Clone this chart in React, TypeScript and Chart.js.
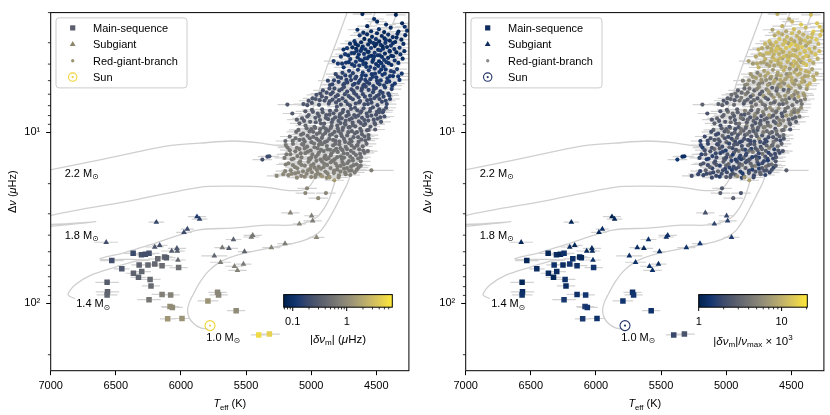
import React, { useEffect, useRef } from "react";
import { Chart, registerables } from "chart.js";
Chart.register(...registerables);

const FONT = '"Liberation Sans", Arial, "DejaVu Sans", sans-serif';

// ---------- axes ----------
const X_MIN = 4250;
const X_MAX = 7000;
const Y_MIN = 2.0;
const Y_MAX = 248;
const X_TICKS = [7000, 6500, 6000, 5500, 5000, 4500];
const Y_MAJOR_TICKS = [10, 100];
const Y_TICK_LABELS = ["10\u00b9", "10\u00b2"];
const Y_MINOR_TICKS = [2, 3, 4, 5, 6, 7, 8, 9, 20, 30, 40, 50, 60, 70, 80, 90, 200];

// ---------- colour bars ----------
const LEFT_CB_RANGE: [number, number] = [0.068, 7.0];
const RIGHT_CB_RANGE: [number, number] = [1, 20.4];
const LEFT_CB_MAJOR = [0.1, 1];
const LEFT_CB_MAJOR_LABELS = ["0.1", "1"];
const LEFT_CB_MINOR = [0.07, 0.08, 0.09, 0.2, 0.3, 0.4, 0.5, 0.6, 0.7, 0.8, 0.9, 2, 3, 4, 5, 6];
const RIGHT_CB_MAJOR = [1, 10];
const RIGHT_CB_MAJOR_LABELS = ["1", "10"];
const RIGHT_CB_MINOR = [2, 3, 4, 5, 6, 7, 8, 9, 20];

const LEGEND_LABELS = ["Main-sequence", "Subgiant", "Red-giant-branch", "Sun"];

// ---------- Sun ----------
const SUN = [5777, 135.1];

// ---------- evolutionary tracks [Teff, dnu] ----------
const TRACK_22 = [[7060, 16.95], [6623, 14.5], [6370, 13.2], [6087, 12.0], [5857, 11.6], [5604, 11.26], [5397, 11.56], [5191, 12.19], [5129, 11.87], [5068, 10.4], [5014, 8.21], [4953, 6.14], [4884, 4.25], [4808, 2.98], [4724, 2.0], [4700, 1.8]];
const TRACK_18 = [[7060, 35.8], [6653, 33.4], [7060, 34.5], [7060, 31.5], [6370, 25.06], [5857, 21.0], [5604, 20.7], [5344, 21.0], [5168, 21.96], [5037, 21.5], [4976, 18.8], [4938, 15.45], [4884, 11.87], [4823, 8.88], [4754, 6.31], [4678, 4.25], [4586, 2.79], [4509, 2.0], [4480, 1.8]];
const TRACK_14 = [[6814, 94.0], [6867, 89.2], [6814, 78.2], [6691, 68.5], [6508, 61.65], [6355, 56.97], [6240, 55.85], [6385, 55.48], [6623, 55.11], [6431, 50.6], [6240, 45.53], [5872, 37.36], [5604, 36.39], [5344, 34.99], [5168, 34.99], [5053, 34.07], [4968, 31.9], [4907, 28.33], [4861, 24.5], [4831, 20.92], [4792, 16.5], [4746, 12.68], [4693, 9.74], [4616, 7.0], [4532, 4.72], [4440, 3.18], [4340, 2.0], [4310, 1.8]];
const TRACK_10 = [[5790, 142], [5850, 139.5], [5905, 131], [5938, 121], [5949, 110], [5935, 98.5], [5903, 88.0], [5857, 76.1], [5796, 65.8], [5727, 59.3], [5643, 54.75], [5528, 51.27], [5382, 48.63], [5229, 46.13], [5091, 43.76], [4991, 40.97], [4922, 37.36], [4861, 31.9], [4808, 26.87], [4762, 22.94], [4724, 20.11], [4685, 16.5], [4647, 13.54], [4578, 10.13], [4479, 7.0], [4379, 4.53], [4310, 3.18], [4249, 2.28], [4211, 1.93]];
const TRACKS = [TRACK_22, TRACK_18, TRACK_14, TRACK_10];
const TRACK_MASSES = ["2.2", "1.8", "1.4", "1.0"];
const TRACK_LABEL_TEFF = [6893, 6893, 6804, 5806];
const TRACK_LABEL_DNU = [17.23, 39.74, 100, 157.1];

// ---------- main-sequence stars [Teff, dnu, sigmaTeff, |dnu_m| (uHz), |dnu_m|/numax*1e3] ----------
const MS_STARS = [
  [6531, 56.3, 90, 0.22, 1.1], [6454, 62.9, 60, 0.27, 1.2], [6367, 51.1, 70, 0.19, 1.1], [6303, 52.1, 80, 0.24, 1.2],
  [6273, 51.7, 70, 0.22, 1.1], [6245, 51.1, 80, 0.23, 1.3], [6321, 59.7, 60, 0.37, 1.3], [6253, 59.7, 70, 0.42, 1.2],
  [6201, 59.0, 80, 0.42, 1.4], [6178, 55.0, 70, 0.44, 1.3], [6125, 53.6, 60, 0.37, 1.2], [6112, 54.2, 70, 0.32, 1.1],
  [6145, 60.3, 80, 0.47, 1.3], [6018, 61.9, 70, 0.52, 1.4], [6365, 66.8, 60, 0.37, 1.2], [6301, 65.3, 70, 0.40, 1.2],
  [6326, 70.6, 60, 0.35, 1.1], [6237, 72.6, 80, 0.42, 1.3], [6230, 79.2, 70, 0.44, 1.2], [6567, 75.5, 90, 0.32, 1.1],
  [6564, 85.8, 90, 0.37, 1.2], [6567, 89.4, 80, 0.40, 1.3], [6245, 95.3, 90, 0.60, 1.5], [6145, 88.8, 80, 0.75, 1.3],
  [6079, 89.4, 70, 0.80, 1.4], [6084, 104.5, 70, 1.10, 1.6], [6066, 105.8, 80, 1.00, 1.4], [6102, 123.4, 60, 1.30, 1.5],
  [5992, 122.8, 60, 1.20, 1.3], [5793, 97.0, 80, 1.20, 1.4], [5719, 86.4, 70, 0.90, 1.3], [5711, 89.4, 70, 0.90, 1.4],
  [5576, 110.6, 70, 1.00, 1.3], [5403, 153.3, 60, 5.50, 1.9], [5321, 151.5, 80, 4.50, 2.3],
];

// ---------- subgiant stars [Teff, dnu, sigmaTeff, |dnu_m|, |dnu_m|/numax*1e3] ----------
const SG_STARS = [
  [6189, 33.6, 60, 0.18, 1.1], [5877, 31.2, 70, 0.14, 1.0], [5857, 32.2, 60, 0.16, 1.1], [5951, 36.9, 50, 0.20, 1.2],
  [5977, 38.5, 60, 0.20, 1.1], [6574, 44.0, 90, 0.22, 1.1], [5597, 42.4, 60, 0.35, 1.3], [5449, 40.1, 70, 0.60, 1.4],
  [5460, 41.0, 60, 0.65, 1.3], [5160, 29.6, 70, 0.85, 2.2], [4997, 30.8, 60, 0.75, 1.9], [4989, 33.0, 70, 0.70, 1.7],
  [5091, 34.4, 50, 0.80, 1.8], [4959, 41.2, 60, 0.95, 1.6], [5683, 47.3, 60, 0.65, 1.2], [5632, 47.8, 70, 0.30, 1.1],
  [5512, 49.9, 50, 0.38, 1.2], [5306, 47.3, 70, 0.80, 1.3], [5201, 44.8, 60, 0.70, 1.4], [5744, 52.8, 100, 0.40, 1.2],
  [5696, 57.6, 80, 0.70, 1.3], [5589, 60.8, 70, 0.75, 1.3], [5520, 59.0, 60, 0.65, 1.2], [5566, 64.3, 70, 0.80, 1.3],
  [6163, 45.9, 60, 0.22, 1.1], [6031, 47.8, 70, 0.25, 1.1], [6028, 49.5, 60, 0.30, 1.2], [6071, 49.5, 80, 0.30, 1.1],
  [6023, 55.9, 60, 0.45, 1.3], [6201, 46.9, 70, 0.25, 1.2],
];

// ---------- red-giant-branch stars [Teff, dnu, |dnu_m|, |dnu_m|/numax*1e3, (sigmaTeff)] ----------
const RGB_TEFF_ERR = 75;
const RGB_STARS: number[][] = [
  [4607, 2.04, 0.09, 10], [4350, 2.06, 0.08, 12], [4517, 2.18, 0.10, 9], [4494, 2.26, 0.09, 11], [4302, 2.31, 0.08, 13], [4264, 2.55, 0.10, 12],
  [4425, 2.35, 0.09, 14], [4570, 2.40, 0.08, 10], [4645, 2.52, 0.10, 8], [4390, 2.45, 0.09, 11], [4330, 2.58, 0.08, 15], [4480, 2.50, 0.11, 12],
  [4540, 2.57, 0.09, 9], [4282, 2.42, 0.10, 13], [4440, 2.60, 0.08, 10], [4600, 2.62, 0.10, 11],
  [4278, 2.71, 0.09, 13], [4292, 3.05, 0.10, 11], [4308, 2.88, 0.08, 14], [4322, 3.21, 0.11, 9], [4338, 2.66, 0.09, 12], [4355, 2.97, 0.08, 10],
  [4362, 3.27, 0.10, 13], [4374, 2.78, 0.09, 11], [4388, 3.12, 0.12, 8], [4396, 2.92, 0.08, 12], [4409, 2.69, 0.10, 10], [4418, 3.18, 0.09, 14],
  [4431, 3.01, 0.11, 9], [4437, 2.83, 0.08, 11], [4449, 3.25, 0.10, 12], [4458, 2.74, 0.09, 10], [4466, 3.09, 0.12, 13], [4478, 2.95, 0.08, 9],
  [4486, 3.30, 0.10, 11], [4495, 2.64, 0.09, 12], [4503, 2.86, 0.11, 10], [4512, 3.14, 0.08, 14], [4521, 3.02, 0.10, 8], [4533, 2.77, 0.09, 11],
  [4541, 3.22, 0.12, 13], [4552, 2.91, 0.08, 10], [4563, 3.07, 0.10, 12], [4571, 2.68, 0.09, 9], [4584, 3.28, 0.11, 11], [4592, 2.85, 0.08, 13],
  [4604, 3.16, 0.10, 10], [4617, 2.98, 0.09, 12], [4628, 2.72, 0.12, 9], [4641, 3.11, 0.10, 11], [4655, 3.26, 0.08, 10], [4668, 2.94, 0.11, 12],
  [4684, 3.19, 0.09, 8], [4702, 3.04, 0.10, 11], [4725, 3.23, 0.12, 9], [4752, 3.29, 0.10, 10],
  [4285, 3.36, 0.10, 12], [4298, 3.72, 0.09, 10], [4315, 3.51, 0.11, 13], [4331, 3.94, 0.10, 9], [4346, 3.42, 0.08, 11], [4359, 3.81, 0.12, 12],
  [4371, 3.60, 0.10, 10], [4384, 4.05, 0.09, 13], [4397, 3.38, 0.11, 9], [4410, 3.68, 0.10, 11], [4422, 3.90, 0.13, 8], [4434, 3.47, 0.09, 12],
  [4446, 4.12, 0.11, 10], [4457, 3.63, 0.10, 11], [4468, 3.33, 0.12, 9], [4479, 3.85, 0.09, 12], [4490, 3.55, 0.11, 10], [4502, 4.00, 0.10, 8],
  [4513, 3.44, 0.13, 11], [4524, 3.77, 0.10, 13], [4536, 3.58, 0.09, 9], [4547, 4.16, 0.12, 10], [4559, 3.39, 0.10, 12], [4570, 3.70, 0.11, 8],
  [4582, 3.96, 0.09, 11], [4594, 3.49, 0.12, 10], [4606, 3.83, 0.10, 9], [4619, 3.35, 0.11, 12], [4631, 4.08, 0.13, 8], [4644, 3.65, 0.10, 10],
  [4657, 3.88, 0.12, 9], [4671, 3.45, 0.10, 11], [4686, 4.02, 0.11, 7], [4700, 3.74, 0.13, 10], [4716, 3.56, 0.10, 9], [4733, 3.92, 0.12, 8],
  [4751, 4.18, 0.11, 10], [4772, 3.62, 0.13, 9], [4795, 3.98, 0.12, 7], [4828, 3.84, 0.14, 8],
  [4345, 2.80, 0.09, 12], [4372, 3.02, 0.10, 10], [4398, 3.35, 0.09, 13], [4426, 2.90, 0.11, 9], [4452, 3.15, 0.08, 12], [4474, 3.55, 0.10, 11],
  [4499, 3.05, 0.09, 14], [4517, 3.62, 0.11, 10], [4545, 2.97, 0.10, 12], [4566, 3.40, 0.09, 9], [4588, 3.70, 0.12, 11], [4612, 3.25, 0.10, 13],
  [4635, 3.52, 0.11, 10], [4660, 3.05, 0.09, 9], [4690, 3.45, 0.12, 11], [4712, 3.90, 0.11, 8], [4405, 3.95, 0.10, 12], [4440, 3.78, 0.12, 9],
  [4485, 4.10, 0.11, 11], [4530, 3.88, 0.10, 10], [4578, 4.15, 0.12, 9], [4625, 3.78, 0.11, 12], [4668, 4.10, 0.13, 8], [4740, 3.50, 0.12, 10],
  [4386, 3.58, 0.09, 13], [4462, 3.95, 0.11, 10], [4555, 3.60, 0.10, 12], [4600, 4.00, 0.12, 9], [4650, 3.35, 0.11, 10], [4763, 3.98, 0.13, 9],
  [4305, 4.55, 0.12, 9], [4322, 4.95, 0.11, 10], [4341, 4.28, 0.13, 8], [4358, 5.20, 0.12, 11], [4372, 4.70, 0.10, 9], [4388, 4.40, 0.14, 10],
  [4401, 5.05, 0.12, 7], [4415, 4.85, 0.13, 9], [4428, 4.30, 0.11, 11], [4441, 5.32, 0.15, 8], [4453, 4.62, 0.12, 10], [4466, 4.98, 0.13, 6],
  [4477, 4.45, 0.11, 9], [4489, 5.15, 0.14, 8], [4500, 4.78, 0.12, 10], [4512, 4.25, 0.13, 7], [4523, 5.38, 0.15, 9], [4535, 4.58, 0.12, 6],
  [4546, 4.90, 0.14, 8], [4558, 4.35, 0.13, 10], [4569, 5.10, 0.15, 7], [4581, 4.67, 0.12, 9], [4593, 5.27, 0.16, 6], [4604, 4.48, 0.13, 8],
  [4616, 4.88, 0.14, 5], [4629, 5.02, 0.15, 9], [4641, 4.32, 0.13, 7], [4654, 4.74, 0.16, 8], [4667, 5.22, 0.14, 5], [4680, 4.52, 0.15, 9],
  [4694, 4.96, 0.16, 6], [4709, 4.38, 0.14, 8], [4723, 5.12, 0.17, 5], [4738, 4.66, 0.15, 7], [4754, 5.30, 0.16, 6], [4771, 4.82, 0.17, 8],
  [4790, 5.08, 0.16, 5], [4812, 4.58, 0.18, 7], [4838, 5.25, 0.17, 6], [4872, 5.00, 0.18, 5],
  [4332, 4.72, 0.12, 9], [4365, 4.45, 0.13, 10], [4395, 4.70, 0.12, 8], [4435, 4.55, 0.13, 9], [4462, 4.30, 0.12, 7], [4495, 5.00, 0.14, 9],
  [4528, 4.75, 0.13, 8], [4555, 5.20, 0.15, 6], [4585, 4.95, 0.14, 9], [4610, 4.65, 0.13, 7], [4638, 5.15, 0.15, 8], [4662, 4.85, 0.16, 6],
  [4700, 4.70, 0.15, 8], [4730, 4.95, 0.16, 7], [4760, 4.50, 0.16, 5], [4795, 4.75, 0.17, 7], [4825, 4.98, 0.17, 6], [4855, 5.30, 0.18, 5],
  [4420, 5.10, 0.14, 9], [4510, 4.55, 0.13, 8], [4600, 5.35, 0.16, 6], [4680, 5.30, 0.16, 7], [4745, 5.20, 0.17, 5], [4378, 5.35, 0.13, 10],
  [4475, 5.25, 0.15, 7],
  [4382, 5.60, 0.15, 7], [4395, 6.40, 0.17, 5], [4408, 5.95, 0.16, 8], [4420, 6.85, 0.18, 4], [4433, 5.48, 0.15, 6], [4445, 6.20, 0.17, 9],
  [4457, 6.65, 0.19, 3.5], [4469, 5.78, 0.16, 7], [4481, 6.05, 0.18, 5], [4492, 6.95, 0.20, 4], [4503, 5.52, 0.16, 8], [4515, 6.32, 0.19, 3],
  [4526, 5.85, 0.17, 6], [4537, 6.72, 0.20, 4.5], [4548, 6.12, 0.18, 7], [4559, 5.66, 0.17, 3], [4570, 6.50, 0.21, 5], [4581, 5.42, 0.18, 8],
  [4592, 6.88, 0.22, 3.5], [4603, 6.00, 0.19, 6], [4614, 5.72, 0.18, 2.8], [4625, 6.58, 0.21, 5], [4636, 6.25, 0.20, 7], [4647, 5.50, 0.19, 3],
  [4658, 6.80, 0.23, 4], [4669, 5.92, 0.20, 6], [4680, 6.42, 0.21, 2.6], [4691, 5.62, 0.19, 5], [4702, 6.98, 0.24, 3.5], [4713, 6.15, 0.21, 7],
  [4724, 5.80, 0.20, 3], [4736, 6.60, 0.23, 4.5], [4748, 5.45, 0.20, 6], [4760, 6.35, 0.22, 2.7], [4772, 6.90, 0.24, 4], [4784, 5.70, 0.21, 3],
  [4796, 6.08, 0.22, 5.5], [4809, 6.70, 0.24, 2.8], [4822, 5.55, 0.21, 4], [4836, 6.45, 0.23, 3.2], [4850, 6.00, 0.22, 5], [4865, 6.82, 0.25, 2.5],
  [4881, 5.88, 0.23, 3.5], [4898, 6.55, 0.24, 4], [4918, 6.18, 0.24, 2.9], [4940, 6.92, 0.25, 3.5], [4966, 6.40, 0.25, 3], [4995, 6.75, 0.25, 2.6],
  [5030, 6.95, 0.26, 3],
  [4400, 6.10, 0.16, 7], [4428, 6.55, 0.18, 4], [4452, 5.90, 0.17, 6], [4476, 6.40, 0.19, 3.5], [4498, 6.15, 0.18, 7], [4520, 5.65, 0.17, 4],
  [4543, 6.45, 0.20, 5], [4565, 6.85, 0.21, 3], [4588, 6.20, 0.19, 6], [4610, 5.55, 0.18, 4], [4632, 6.70, 0.22, 3.2], [4654, 6.05, 0.20, 5],
  [4676, 5.75, 0.20, 7], [4698, 6.30, 0.21, 3], [4720, 6.85, 0.23, 4], [4742, 6.00, 0.21, 2.8], [4765, 5.60, 0.21, 5], [4788, 6.50, 0.23, 3.5],
  [4812, 6.20, 0.23, 2.6], [4835, 5.85, 0.22, 4], [4858, 6.60, 0.24, 3], [4885, 6.30, 0.24, 4.5], [4910, 5.70, 0.23, 3], [4935, 6.50, 0.25, 2.7],
  [4960, 6.05, 0.24, 3.5], [4990, 6.35, 0.25, 3], [5020, 6.55, 0.26, 2.6], [5060, 6.85, 0.27, 3], [4860, 5.55, 0.22, 3.5], [4930, 5.95, 0.24, 4],
  [4425, 7.20, 0.22, 6], [4438, 8.10, 0.24, 4], [4451, 7.65, 0.21, 7], [4464, 8.70, 0.25, 3], [4477, 7.35, 0.23, 5], [4490, 8.35, 0.26, 2.8],
  [4502, 7.90, 0.24, 6], [4514, 8.85, 0.27, 3.5], [4526, 7.15, 0.22, 4], [4538, 8.00, 0.25, 7], [4550, 7.55, 0.24, 3], [4562, 8.55, 0.27, 5],
  [4574, 7.80, 0.25, 2.5], [4586, 8.95, 0.28, 4], [4598, 7.25, 0.24, 6], [4610, 8.25, 0.27, 3], [4622, 7.70, 0.26, 4.5], [4634, 8.65, 0.29, 2.6],
  [4646, 7.45, 0.25, 5], [4658, 8.15, 0.28, 3.2], [4670, 7.95, 0.27, 7], [4682, 8.80, 0.30, 2.8], [4694, 7.30, 0.26, 4], [4706, 8.45, 0.29, 3],
  [4718, 7.60, 0.27, 5.5], [4730, 8.05, 0.28, 2.4], [4742, 8.90, 0.31, 3.5], [4754, 7.40, 0.27, 4], [4766, 8.30, 0.30, 2.7], [4778, 7.85, 0.29, 6],
  [4790, 8.60, 0.31, 3], [4803, 7.10, 0.27, 4.5], [4816, 8.20, 0.30, 2.5], [4829, 7.75, 0.29, 3.5], [4842, 8.75, 0.32, 2.8], [4856, 7.50, 0.29, 5],
  [4870, 8.40, 0.31, 3], [4885, 7.95, 0.30, 2.6], [4900, 8.90, 0.33, 4], [4916, 7.35, 0.30, 3], [4933, 8.50, 0.32, 2.5], [4950, 7.80, 0.31, 3.5],
  [4968, 8.25, 0.32, 2.8], [4987, 7.60, 0.31, 4], [5008, 8.70, 0.34, 2.6], [5030, 8.10, 0.33, 3.2], [5055, 8.60, 0.34, 2.5], [5090, 8.88, 0.35, 3],
  [5145, 7.78, 0.30, 2.4], [5183, 6.90, 0.28, 3],
  [4445, 7.45, 0.23, 5], [4470, 8.20, 0.25, 3], [4495, 7.60, 0.24, 6], [4520, 8.45, 0.26, 3], [4545, 7.30, 0.24, 4], [4568, 8.10, 0.26, 2.6],
  [4592, 8.50, 0.28, 5], [4615, 7.55, 0.26, 3.5], [4640, 8.00, 0.27, 2.8], [4664, 7.20, 0.26, 6], [4688, 8.30, 0.29, 3], [4712, 7.90, 0.28, 4],
  [4736, 8.60, 0.30, 2.6], [4760, 7.65, 0.28, 3.5], [4784, 8.15, 0.30, 5], [4808, 7.45, 0.29, 2.8], [4834, 8.45, 0.31, 3.2], [4860, 7.90, 0.30, 2.5],
  [4888, 8.25, 0.31, 4], [4912, 7.65, 0.31, 3], [4940, 8.05, 0.32, 2.6], [4965, 8.75, 0.33, 3.5], [4995, 7.40, 0.31, 2.8], [5020, 7.95, 0.33, 3],
  [5045, 7.55, 0.33, 2.5], [5070, 8.30, 0.34, 3.2], [5110, 8.45, 0.35, 2.6], [4620, 8.85, 0.29, 3], [4775, 8.85, 0.31, 2.4], [4925, 8.90, 0.33, 3],
  [4478, 7.65, 0.25, 4], [4509, 9.00, 0.30, 3], [4509, 9.65, 0.32, 2.5], [4560, 10.40, 0.36, 3.5],
  [4545, 9.30, 0.30, 5], [4558, 10.90, 0.36, 2.5], [4571, 9.75, 0.32, 4], [4584, 11.20, 0.38, 2], [4597, 9.10, 0.31, 6], [4610, 10.30, 0.35, 3],
  [4623, 9.55, 0.33, 2.4], [4636, 11.40, 0.40, 4], [4649, 10.00, 0.35, 2.8], [4662, 9.25, 0.33, 5], [4675, 10.70, 0.38, 2.2], [4688, 9.85, 0.35, 3.5],
  [4700, 11.05, 0.40, 2], [4712, 9.40, 0.34, 4.5], [4724, 10.45, 0.38, 2.6], [4736, 9.05, 0.34, 3], [4748, 10.95, 0.41, 6], [4760, 9.70, 0.36, 2.3],
  [4772, 10.20, 0.39, 3.5], [4784, 11.35, 0.43, 2], [4796, 9.50, 0.37, 4], [4808, 10.60, 0.41, 2.5], [4820, 9.95, 0.39, 3], [4832, 11.10, 0.44, 2.2],
  [4844, 9.20, 0.37, 5], [4856, 10.40, 0.42, 2.6], [4868, 9.80, 0.40, 3.2], [4880, 11.30, 0.46, 2], [4892, 10.10, 0.42, 4], [4905, 9.35, 0.40, 2.5],
  [4918, 10.80, 0.45, 3], [4931, 9.60, 0.41, 2.2], [4944, 11.15, 0.47, 3.5], [4957, 10.25, 0.44, 2.4], [4970, 9.45, 0.42, 4.5], [4984, 10.65, 0.46, 2.1],
  [4998, 11.45, 0.49, 3], [5013, 9.90, 0.44, 2.5], [5028, 10.50, 0.47, 3.5], [5044, 9.15, 0.43, 2.2], [5060, 11.00, 0.49, 2.8], [5078, 10.35, 0.47, 2],
  [5098, 9.70, 0.45, 3], [5120, 10.85, 0.50, 2.4], [5142, 11.25, 0.51, 2], [5198, 11.26, 0.45, 1.8],
  [4590, 10.60, 0.36, 3], [4615, 9.85, 0.34, 4], [4640, 10.70, 0.38, 2.4], [4665, 10.15, 0.36, 3.5], [4690, 11.30, 0.41, 2], [4715, 10.00, 0.37, 4.5],
  [4740, 11.40, 0.42, 2.2], [4765, 10.55, 0.39, 3], [4790, 9.85, 0.38, 2.6], [4815, 11.25, 0.43, 2], [4838, 10.25, 0.41, 3.5], [4862, 10.95, 0.44, 2.3],
  [4886, 9.60, 0.40, 4], [4910, 10.40, 0.43, 2.5], [4935, 10.05, 0.43, 3], [4960, 10.90, 0.46, 2.2], [4985, 9.95, 0.44, 3.5], [5010, 10.85, 0.47, 2.4],
  [5035, 9.50, 0.44, 2.8], [5062, 10.20, 0.47, 2], [5090, 11.10, 0.50, 2.6], [5115, 9.95, 0.47, 2.2], [4705, 9.35, 0.35, 5], [4850, 9.45, 0.39, 3],
  [4975, 9.30, 0.42, 2.4], [4560, 9.70, 0.33, 3.5], [4680, 9.10, 0.34, 4], [4800, 9.15, 0.36, 2.8], [4930, 11.40, 0.48, 2], [5050, 11.35, 0.50, 2.4],
  [4615, 11.05, 0.39, 2.6], [4755, 9.40, 0.36, 3.2], [4895, 11.45, 0.47, 1.9], [5000, 9.60, 0.43, 3], [5165, 10.60, 0.50, 2],
  [4575, 11.70, 0.42, 3], [4590, 13.20, 0.48, 2], [4604, 12.10, 0.44, 4], [4618, 14.00, 0.52, 2.4], [4631, 12.60, 0.47, 1.8], [4644, 11.90, 0.45, 3.5],
  [4657, 13.60, 0.51, 2.2], [4670, 12.35, 0.47, 5], [4683, 14.30, 0.55, 1.9], [4696, 12.85, 0.50, 2.8], [4709, 11.60, 0.46, 2], [4722, 13.40, 0.53, 4],
  [4735, 12.20, 0.49, 2.3], [4748, 14.10, 0.57, 1.7], [4760, 12.75, 0.52, 3], [4772, 13.85, 0.56, 2], [4784, 11.80, 0.49, 2.6], [4796, 13.05, 0.54, 4.5],
  [4808, 12.50, 0.53, 1.8], [4820, 14.40, 0.60, 2.5], [4832, 11.95, 0.51, 3.2], [4844, 13.30, 0.57, 2], [4856, 12.65, 0.55, 1.6], [4868, 14.20, 0.61, 3],
  [4880, 12.05, 0.53, 2.2], [4892, 13.70, 0.59, 1.9], [4904, 12.90, 0.57, 4], [4916, 11.75, 0.54, 2.4], [4928, 14.45, 0.64, 1.7], [4940, 13.15, 0.60, 2.8],
  [4952, 12.40, 0.58, 2], [4965, 13.95, 0.63, 3.5], [4978, 11.65, 0.55, 1.8], [4991, 13.50, 0.62, 2.5], [5004, 12.80, 0.60, 1.6], [5017, 14.25, 0.66, 3],
  [5031, 12.15, 0.59, 2.1], [5045, 13.25, 0.63, 1.8], [5060, 11.85, 0.58, 2.6], [5075, 14.05, 0.67, 2], [5090, 12.55, 0.62, 3.5], [5106, 13.80, 0.66, 1.7],
  [5122, 12.95, 0.64, 2.3], [5140, 11.70, 0.60, 1.9], [5160, 13.45, 0.66, 2.6], [5182, 12.30, 0.64, 1.6], [5205, 14.15, 0.70, 2],
  [5321, 13.84, 0.22, 1.3], [5375, 14.47, 0.24, 1.4], [5336, 13.90, 0.20, 1.2],
  [4600, 12.80, 0.46, 2.6], [4625, 13.40, 0.50, 2], [4650, 12.00, 0.46, 3.5], [4675, 13.20, 0.50, 1.8], [4700, 13.90, 0.54, 2.4], [4725, 12.55, 0.50, 3],
  [4750, 13.30, 0.54, 1.9], [4775, 12.40, 0.52, 2.6], [4800, 14.00, 0.58, 1.7], [4825, 12.85, 0.55, 3.5], [4850, 13.65, 0.58, 2], [4875, 12.60, 0.56, 2.8],
  [4900, 14.15, 0.62, 1.8], [4925, 12.70, 0.58, 2.4], [4950, 13.55, 0.61, 1.6], [4975, 12.25, 0.58, 3], [5000, 14.05, 0.64, 2], [5025, 13.00, 0.61, 1.8],
  [5050, 12.45, 0.60, 2.6], [5080, 13.30, 0.63, 1.9], [5110, 12.35, 0.62, 2.4], [5135, 14.30, 0.68, 1.7], [5165, 12.75, 0.64, 2.2], [5190, 13.50, 0.67, 1.8],
  [4690, 11.95, 0.47, 3], [4815, 11.70, 0.50, 2.2], [4940, 11.85, 0.55, 2.6], [5070, 11.75, 0.58, 2], [5195, 11.90, 0.62, 1.8], [4640, 14.25, 0.54, 2],
  [4765, 14.35, 0.58, 2.8], [4885, 14.40, 0.62, 1.7], [5010, 14.45, 0.66, 2.3], [5150, 14.40, 0.68, 1.6], [4565, 12.90, 0.47, 2.4],
  [4620, 14.80, 0.55, 2.5], [4636, 16.10, 0.62, 1.8], [4651, 15.40, 0.58, 3.5], [4666, 17.20, 0.70, 2], [4680, 14.65, 0.57, 1.6], [4694, 15.90, 0.63, 4],
  [4708, 16.80, 0.68, 2.2], [4691, 16.72, 0.66, 2.4, 60], [4538, 16.72, 0.75, 2.8, 170], [4722, 15.15, 0.61, 1.9], [4735, 17.60, 0.75, 3], [4748, 16.35, 0.68, 1.7],
  [4761, 14.95, 0.62, 2.6], [4774, 15.75, 0.66, 5], [4787, 17.90, 0.80, 2], [4800, 16.55, 0.71, 1.6], [4813, 15.25, 0.65, 3.2], [4826, 17.35, 0.78, 2.3],
  [4839, 14.70, 0.63, 1.8], [4852, 16.20, 0.72, 2.8], [4865, 18.10, 0.86, 2], [4878, 15.55, 0.69, 4], [4891, 17.00, 0.78, 1.7], [4904, 16.00, 0.73, 2.5],
  [4917, 14.85, 0.67, 1.9], [4930, 17.75, 0.84, 3], [4943, 15.95, 0.74, 2.1], [4956, 16.65, 0.79, 1.6], [4969, 18.30, 0.92, 2.6], [4982, 15.35, 0.72, 3.5],
  [4995, 17.15, 0.84, 2], [5008, 16.40, 0.79, 1.8], [5021, 14.90, 0.71, 2.8], [5035, 17.50, 0.87, 2.2], [5049, 15.70, 0.76, 1.7], [5063, 16.95, 0.84, 3],
  [5077, 18.00, 0.92, 2], [5092, 15.10, 0.74, 2.5], [5107, 16.25, 0.80, 1.8], [5123, 17.40, 0.88, 2.4], [5140, 15.60, 0.77, 2], [5157, 16.70, 0.84, 3],
  [5175, 17.85, 0.92, 1.9], [5195, 15.45, 0.78, 2.6], [5265, 18.03, 0.95, 2.2],
  [4650, 16.60, 0.64, 2.2], [4675, 15.60, 0.61, 3], [4700, 17.80, 0.74, 1.8], [4725, 16.20, 0.66, 2.6], [4750, 15.40, 0.64, 1.7], [4775, 17.00, 0.73, 2.4],
  [4800, 15.80, 0.68, 3.5], [4825, 16.80, 0.74, 1.9], [4850, 15.00, 0.66, 2.2], [4875, 17.40, 0.80, 1.6], [4900, 15.30, 0.70, 2.8], [4925, 16.35, 0.76, 2],
  [4950, 17.40, 0.83, 2.4], [4975, 16.10, 0.77, 1.8], [5000, 15.65, 0.75, 3], [5025, 16.70, 0.81, 2.1], [5050, 18.20, 0.92, 1.7], [5075, 15.55, 0.76, 2.5],
  [5100, 17.20, 0.87, 1.9], [5125, 16.00, 0.80, 2.8], [5150, 17.50, 0.89, 2], [5175, 15.20, 0.77, 2.4], [5200, 16.90, 0.87, 1.8], [4620, 15.70, 0.60, 2.6],
  [4710, 14.75, 0.59, 1.9], [4830, 14.65, 0.63, 2.4], [4960, 14.70, 0.68, 1.7], [5085, 14.80, 0.72, 2.2], [4790, 18.40, 0.88, 2], [4880, 18.50, 0.95, 1.8],
  [5000, 18.30, 0.94, 2.6], [5110, 18.45, 0.96, 2], [4740, 17.20, 0.76, 3], [4965, 17.80, 0.88, 2.2], [5215, 17.60, 0.93, 1.9],
  [4916, 18.10, 1.30, 6], [4823, 19.10, 1.50, 8], [4860, 18.40, 1.20, 7],
  [5032, 21.30, 0.90, 2.5], [5045, 22.70, 0.95, 2.7], [4887, 22.70, 0.90, 2.4], [4946, 24.30, 1.00, 2.8],
];

// ---------- colour map (cividis) ----------
const CIVIDIS = ["#00224e", "#123570", "#3b496c", "#575d6d", "#707173", "#8a8678", "#a59c74", "#c3b369", "#e1cc55", "#fee838"];
const CIV_RGB = CIVIDIS.map((h) => [parseInt(h.slice(1, 3), 16), parseInt(h.slice(3, 5), 16), parseInt(h.slice(5, 7), 16)]);
function cividis(t: number) {
  const tt = Math.max(0, Math.min(1, t));
  const n = CIV_RGB.length - 1;
  const i = Math.min(n - 1, Math.floor(tt * n));
  const f = tt * n - i;
  const a = CIV_RGB[i];
  const b = CIV_RGB[i + 1];
  const c = a.map((v, k) => Math.round(v + (b[k] - v) * f));
  return `rgb(${c[0]},${c[1]},${c[2]})`;
}
function normLog(v: number, r: [number, number]) {
  return (Math.log(v) - Math.log(r[0])) / (Math.log(r[1]) - Math.log(r[0]));
}

// ---------- rich text ----------
type Seg = { t: string; it?: boolean; sub?: boolean; sup?: boolean };
function segFont(s: Seg, size: number) {
  const sz = s.sub || s.sup ? size * 0.7 : size;
  return `${s.it ? "italic " : ""}${sz.toFixed(2)}px ${FONT}`;
}
function drawRich(ctx: CanvasRenderingContext2D, segs: Seg[], x: number, y: number, size: number, align: "left" | "center") {
  ctx.save();
  ctx.textAlign = "left";
  ctx.textBaseline = "alphabetic";
  let w = 0;
  for (const s of segs) {
    ctx.font = segFont(s, size);
    w += ctx.measureText(s.t).width;
  }
  let cx = align === "center" ? x - w / 2 : x;
  for (const s of segs) {
    ctx.font = segFont(s, size);
    const dy = s.sub ? size * 0.24 : s.sup ? -size * 0.42 : 0;
    ctx.fillText(s.t, cx, y + dy);
    cx += ctx.measureText(s.t).width;
  }
  ctx.restore();
}

function makeChart(canvas: HTMLCanvasElement, side: "left" | "right") {
  const isLeft = side === "left";
  const range = isLeft ? LEFT_CB_RANGE : RIGHT_CB_RANGE;
  const col = (v: number) => cividis(normLog(v, range));
  const rgbCol = isLeft ? 2 : 3;
  const starCol = isLeft ? 3 : 4;
  const sunColor = isLeft ? "#f0d43a" : "#22356a";
  const legendColors = isLeft
    ? ["#5b5e6f", "#8b8669", "#9d9571", "#f0d43a"]
    : ["#0f2b5f", "#0f2b5f", "#8c8c8c", "#22356a"];

  const datasets: any[] = [];
  TRACKS.forEach((tr) => {
    datasets.push({
      data: tr.map(([x, y]) => ({ x, y })),
      showLine: true,
      borderColor: "#cfcfcf",
      borderWidth: 1.3,
      pointRadius: 0,
      tension: 0.3,
      fill: false,
      order: 10,
    });
  });
  datasets.push({
    data: RGB_STARS.map((r) => ({ x: r[0], y: r[1] })),
    xerr: RGB_STARS.map((r) => (r.length > 4 ? r[4] : RGB_TEFF_ERR)),
    pointStyle: "circle",
    pointRadius: 2.1,
    pointBorderWidth: 0,
    pointBackgroundColor: RGB_STARS.map((r) => col(r[rgbCol])),
    order: 5,
  });
  datasets.push({
    data: SG_STARS.map((r) => ({ x: r[0], y: r[1] })),
    xerr: SG_STARS.map((r) => r[2]),
    pointStyle: "triangle",
    pointRadius: 3.3,
    pointBorderWidth: 0,
    pointBackgroundColor: SG_STARS.map((r) => col(r[starCol])),
    order: 4,
  });
  datasets.push({
    data: MS_STARS.map((r) => ({ x: r[0], y: r[1] })),
    xerr: MS_STARS.map((r) => r[2]),
    pointStyle: "rect",
    pointRadius: 3.9,
    pointBorderWidth: 0,
    pointBackgroundColor: MS_STARS.map((r) => col(r[starCol])),
    order: 3,
  });
  datasets.push({
    data: [{ x: SUN[0], y: SUN[1] }],
    pointStyle: "circle",
    pointRadius: 5,
    pointBorderWidth: 1.1,
    pointBorderColor: sunColor,
    pointBackgroundColor: "rgba(255,255,255,0)",
    order: 2,
  });
  datasets.push({
    data: [{ x: SUN[0], y: SUN[1] }],
    pointStyle: "circle",
    pointRadius: 1.1,
    pointBorderWidth: 0,
    pointBackgroundColor: sunColor,
    order: 1,
  });

  const decor = {
    id: "decor",
    beforeDatasetDraw(chart: any, args: any) {
      const ds = chart.data.datasets[args.index];
      if (!ds.xerr) return;
      const { ctx, chartArea } = chart;
      const xs = chart.scales.x;
      const ys = chart.scales.y;
      ctx.save();
      ctx.beginPath();
      ctx.rect(chartArea.left, chartArea.top, chartArea.right - chartArea.left, chartArea.bottom - chartArea.top);
      ctx.clip();
      ctx.strokeStyle = "#d2d2d2";
      ctx.lineWidth = 1.2;
      ds.data.forEach((p: any, i: number) => {
        const e = ds.xerr[i];
        const py = ys.getPixelForValue(p.y);
        ctx.beginPath();
        ctx.moveTo(xs.getPixelForValue(p.x - e), py);
        ctx.lineTo(xs.getPixelForValue(p.x + e), py);
        ctx.stroke();
      });
      ctx.restore();
    },
    afterDatasetsDraw(chart: any) {
      const { ctx } = chart;
      const xs = chart.scales.x;
      const ys = chart.scales.y;
      ctx.save();
      ctx.fillStyle = "#000";
      TRACK_MASSES.forEach((m, i) => {
        const px = xs.getPixelForValue(TRACK_LABEL_TEFF[i]);
        const py = ys.getPixelForValue(TRACK_LABEL_DNU[i]);
        drawRich(ctx, [{ t: `${m} M` }, { t: "\u2299", sub: true }], px, py + 4, 11, "left");
      });
      ctx.restore();
    },
    afterDraw(chart: any) {
      const { ctx, chartArea } = chart;
      const { left, right, top, bottom } = chartArea;
      const ys = chart.scales.y;
      ctx.save();
      ctx.strokeStyle = "#000";
      ctx.lineWidth = 1;
      ctx.strokeRect(left, top, right - left, bottom - top);
      ctx.lineWidth = 0.8;
      Y_MINOR_TICKS.forEach((v) => {
        const py = ys.getPixelForValue(v);
        ctx.beginPath();
        ctx.moveTo(left, py);
        ctx.lineTo(left - 2.8, py);
        ctx.stroke();
      });
      ctx.fillStyle = "#000";
      drawRich(ctx, [{ t: "T", it: true }, { t: "eff", sub: true }, { t: " (K)" }], (left + right) / 2, 407, 11, "center");
      ctx.save();
      ctx.translate(15.5, (top + bottom) / 2);
      ctx.rotate(-Math.PI / 2);
      drawRich(ctx, [{ t: "\u0394" }, { t: "\u03bd", it: true }, { t: " (" }, { t: "\u03bc", it: true }, { t: "Hz)" }], 0, 0, 11, "center");
      ctx.restore();

      // legend
      const bx = left + 5.3;
      const by = top + 5.3;
      const bw = 131;
      const bh = 70;
      ctx.beginPath();
      if ((ctx as any).roundRect) (ctx as any).roundRect(bx, by, bw, bh, 3);
      else ctx.rect(bx, by, bw, bh);
      ctx.fillStyle = "rgba(255,255,255,0.8)";
      ctx.fill();
      ctx.strokeStyle = "#cccccc";
      ctx.lineWidth = 1;
      ctx.stroke();
      const rows = [by + 10, by + 26.4, by + 42.8, by + 59.2];
      const mx = bx + 16.7;
      LEGEND_LABELS.forEach((lab, i) => {
        const my = rows[i];
        const c = legendColors[i];
        ctx.fillStyle = c;
        ctx.strokeStyle = c;
        if (i === 0) {
          ctx.fillRect(mx - 2.6, my - 2.6, 5.2, 5.2);
        } else if (i === 1) {
          ctx.beginPath();
          ctx.moveTo(mx, my - 3.3);
          ctx.lineTo(mx + 2.9, my + 1.7);
          ctx.lineTo(mx - 2.9, my + 1.7);
          ctx.closePath();
          ctx.fill();
        } else if (i === 2) {
          ctx.beginPath();
          ctx.arc(mx, my, 1.7, 0, Math.PI * 2);
          ctx.fill();
        } else {
          ctx.beginPath();
          ctx.lineWidth = 1.1;
          ctx.arc(mx, my, 4.2, 0, Math.PI * 2);
          ctx.stroke();
          ctx.beginPath();
          ctx.arc(mx, my, 1.1, 0, Math.PI * 2);
          ctx.fill();
        }
        ctx.fillStyle = "#000";
        ctx.font = `11px ${FONT}`;
        ctx.textAlign = "left";
        ctx.textBaseline = "alphabetic";
        ctx.fillText(lab, bx + 37, my + 4);
      });

      // colour bar
      const cx0 = left + 233;
      const cx1 = left + 341.6;
      const cy0 = top + 282;
      const cy1 = top + 294.6;
      const grad = ctx.createLinearGradient(cx0, 0, cx1, 0);
      for (let k = 0; k <= 30; k++) grad.addColorStop(k / 30, cividis(k / 30));
      ctx.fillStyle = grad;
      ctx.fillRect(cx0, cy0, cx1 - cx0, cy1 - cy0);
      ctx.strokeStyle = "#000";
      ctx.lineWidth = 1;
      ctx.strokeRect(cx0, cy0, cx1 - cx0, cy1 - cy0);
      const major = isLeft ? LEFT_CB_MAJOR : RIGHT_CB_MAJOR;
      const majorLab = isLeft ? LEFT_CB_MAJOR_LABELS : RIGHT_CB_MAJOR_LABELS;
      const minor = isLeft ? LEFT_CB_MINOR : RIGHT_CB_MINOR;
      const px = (v: number) => cx0 + normLog(v, range) * (cx1 - cx0);
      ctx.lineWidth = 0.8;
      minor.forEach((v) => {
        const x = px(v);
        if (x < cx0 - 0.1 || x > cx1 + 0.1) return;
        ctx.beginPath();
        ctx.moveTo(x, cy1);
        ctx.lineTo(x, cy1 + 2.2);
        ctx.stroke();
      });
      ctx.lineWidth = 1;
      ctx.fillStyle = "#000";
      ctx.font = `11px ${FONT}`;
      ctx.textAlign = "center";
      ctx.textBaseline = "alphabetic";
      major.forEach((v, k) => {
        const x = px(v);
        ctx.beginPath();
        ctx.moveTo(x, cy1);
        ctx.lineTo(x, cy1 + 3.8);
        ctx.stroke();
        ctx.fillText(majorLab[k], x, cy1 + 17.5);
      });
      const mid = (cx0 + cx1) / 2;
      if (isLeft) {
        drawRich(ctx, [{ t: "|" }, { t: "\u03b4\u03bd", it: true }, { t: "m", sub: true }, { t: "| (" }, { t: "\u03bc", it: true }, { t: "Hz)" }], mid, cy1 + 35.5, 11.5, "center");
      } else {
        drawRich(ctx, [{ t: "|" }, { t: "\u03b4\u03bd", it: true }, { t: "m", sub: true }, { t: "|/" }, { t: "\u03bd", it: true }, { t: "max", sub: true }, { t: " \u00d7 10" }, { t: "3", sup: true }], mid, cy1 + 37.5, 11.5, "center");
      }
      ctx.restore();
    },
  };

  const tickFont = { family: FONT, size: 11 };
  return new Chart(canvas, {
    type: "scatter",
    data: { datasets },
    options: {
      animation: false,
      responsive: false,
      events: [],
      layout: { padding: { top: 4.7, right: isLeft ? 5 : 4, left: 0, bottom: 0 } },
      elements: { line: { capBezierPoints: false } },
      plugins: { legend: { display: false }, tooltip: { enabled: false } },
      scales: {
        x: {
          type: "linear",
          reverse: true,
          min: X_MIN,
          max: X_MAX,
          afterBuildTicks: (s: any) => {
            s.ticks = X_TICKS.map((v) => ({ value: v }));
          },
          afterFit: (s: any) => {
            s.height = 44.3;
          },
          ticks: { color: "#000", font: tickFont, padding: 4, maxRotation: 0, autoSkip: false, callback: (v: any) => String(v) },
          grid: { drawOnChartArea: false, drawTicks: true, tickLength: 4.5, tickColor: "#000", tickWidth: 1, color: "#000" },
          border: { display: false },
        },
        y: {
          type: "logarithmic",
          reverse: true,
          min: Y_MIN,
          max: Y_MAX,
          afterBuildTicks: (s: any) => {
            s.ticks = Y_MAJOR_TICKS.map((v) => ({ value: v, major: true }));
          },
          afterFit: (s: any) => {
            s.width = 50.7;
          },
          ticks: {
            color: "#000",
            font: tickFont,
            padding: 6,
            autoSkip: false,
            callback: (v: any) => {
              const i = Y_MAJOR_TICKS.indexOf(Number(v));
              return i >= 0 ? Y_TICK_LABELS[i] : "";
            },
          },
          grid: { drawOnChartArea: false, drawTicks: true, tickLength: 4.5, tickColor: "#000", tickWidth: 1, color: "#000" },
          border: { display: false },
        },
      },
    } as any,
    plugins: [decor],
  });
}

export default function App() {
  const leftRef = useRef<HTMLCanvasElement>(null);
  const rightRef = useRef<HTMLCanvasElement>(null);
  useEffect(() => {
    const a = makeChart(leftRef.current as HTMLCanvasElement, "left");
    const b = makeChart(rightRef.current as HTMLCanvasElement, "right");
    return () => {
      a.destroy();
      b.destroy();
    };
  }, []);
  return (
    <div style={{ position: "absolute", left: 0, top: 0, width: 830, height: 415, background: "#fff" }}>
      <canvas ref={leftRef} width={415} height={415} style={{ position: "absolute", left: 0, top: 0, width: 415, height: 415 }} />
      <canvas ref={rightRef} width={415} height={415} style={{ position: "absolute", left: 415, top: 0, width: 415, height: 415 }} />
    </div>
  );
}
